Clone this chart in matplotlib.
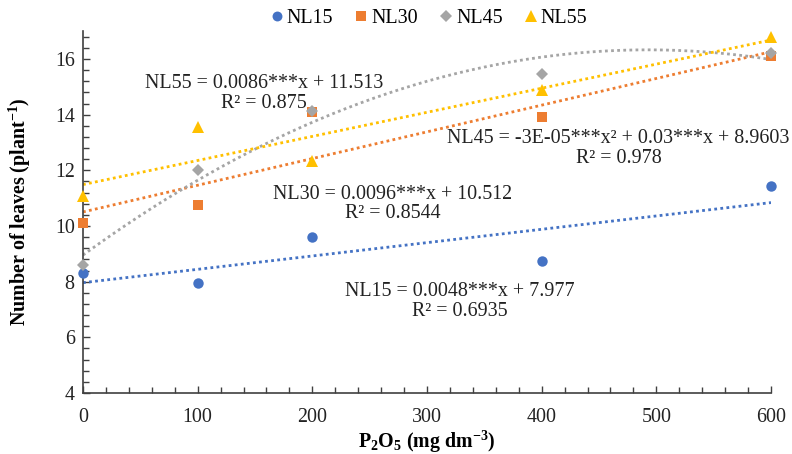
import numpy as np
import matplotlib
matplotlib.use('Agg')
import matplotlib.pyplot as plt

plt.rcParams['font.family'] = ['Liberation Serif', 'DejaVu Serif']
plt.rcParams['mathtext.fontset'] = 'custom'
plt.rcParams['mathtext.rm'] = 'Liberation Serif'
plt.rcParams['mathtext.bf'] = 'Liberation Serif:bold'
plt.rcParams['mathtext.default'] = 'regular'

# P2O5 doses (mg dm-3)
doses = [0, 100, 200, 400, 600]
nl15 = [8.3, 7.95, 9.6, 8.75, 11.45]
nl30 = [10.12, 10.75, 14.1, 13.92, 16.1]
nl45 = [8.6, 12.0, 14.12, 15.45, 16.2]
nl55 = [11.07, 13.57, 12.35, 14.9, 16.8]

series_names = ['NL15', 'NL30', 'NL45', 'NL55']
equations = ['NL15 = 0.0048***x + 7.977\nR² = 0.6935',
             'NL30 = 0.0096***x + 10.512\nR² = 0.8544',
             'NL45 = -3E-05***x² + 0.03***x + 8.9603\nR² = 0.978',
             'NL55 = 0.0086***x + 11.513\nR² = 0.875']
eq_pos = [(329, 7.29), (270, 10.79), (467, 12.79), (158, 14.75)]
fit_degree = [1, 1, 2, 1]

colors = ['#4472C4', '#ED7D31', '#A5A5A5', '#FFC000']
markers = ['o', 's', 'D', '^']
msizes = [7.5, 7.5, 6, 8.5]

fig = plt.figure(figsize=(7.92, 4.54), dpi=100)
ax = fig.add_axes([0.1048, 0.1344, 0.8687, 0.797])

x = np.array(doses, dtype=float)
xs = np.linspace(0, 600, 200)
for i, ys in enumerate([nl15, nl30, nl45, nl55]):
    coef = np.polyfit(x, ys, fit_degree[i])
    ax.plot(xs, np.polyval(coef, xs), color=colors[i], lw=2,
            ls=(0, (1, 1.2)), zorder=2, label='_none_')
for i, ys in enumerate([nl15, nl30, nl45, nl55]):
    ax.plot(x, ys, ls='', marker=markers[i], ms=msizes[i], color=colors[i],
            markeredgewidth=0, zorder=3, label=series_names[i], clip_on=False)

for eq, (ex, ey) in zip(equations, eq_pos):
    ax.text(ex, ey, eq, ha='center', va='center', multialignment='center',
            fontsize=14.4, color='#222222', linespacing=1.05, zorder=4)

ax.set_xlim(0, 600)
ax.set_ylim(4, 17)
ax.set_xticks(np.arange(0, 601, 100))
ax.set_yticks(np.arange(4, 17, 2))
ax.set_xticks(np.arange(0, 601, 20), minor=True)
ax.set_yticks(np.arange(4, 17, 0.4), minor=True)
ax.tick_params(which='both', direction='in', color='#404040', labelsize=14.4,
               labelcolor='#222222')
ax.tick_params(which='major', length=5, width=1)
ax.tick_params(which='minor', length=4, width=1)
ax.tick_params(axis='x', pad=11)
ax.tick_params(axis='y', pad=6)
for s in ['top', 'right']:
    ax.spines[s].set_visible(False)
for s in ['left', 'bottom']:
    ax.spines[s].set_color('#404040')
    ax.spines[s].set_linewidth(1.2)

ax.set_xlabel(r'P$_2$O$_5$ (mg dm$^{-3}$)', fontsize=14.4, fontweight='bold')
ax.set_ylabel(r'Number of leaves (plant$^{-1}$)', fontsize=14.4, fontweight='bold')
ax.xaxis.set_label_coords(0.5, -0.1)
ax.yaxis.set_label_coords(-0.072, 0.5)

leg = ax.legend(loc='lower center', bbox_to_anchor=(0.5, 0.96), ncol=4,
                frameon=False, fontsize=14.4, handletextpad=0.0,
                columnspacing=0.9, handlelength=1.0, markerscale=0.95)

fig.savefig('out.png', dpi=100)
